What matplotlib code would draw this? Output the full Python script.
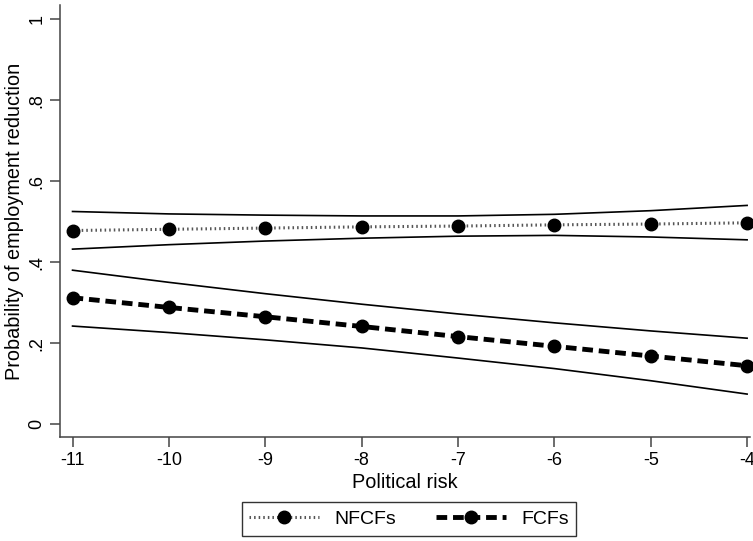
import numpy as np
import matplotlib.pyplot as plt

plt.rcParams['font.family'] = ['Liberation Sans', 'DejaVu Sans']

# political risk values
risk = [-11, -10, -9, -8, -7, -6, -5, -4]

# NFCFs: predicted probability and confidence bounds
nfcf = [0.478, 0.481, 0.484, 0.487, 0.489, 0.492, 0.494, 0.497]
nfcf_hi = [0.525, 0.519, 0.516, 0.514, 0.514, 0.518, 0.527, 0.540]
nfcf_lo = [0.432, 0.443, 0.452, 0.459, 0.464, 0.466, 0.462, 0.455]

# FCFs
fcf = [0.312, 0.288, 0.265, 0.241, 0.216, 0.192, 0.168, 0.144]
fcf_hi = [0.380, 0.350, 0.322, 0.296, 0.272, 0.250, 0.230, 0.212]
fcf_lo = [0.242, 0.226, 0.208, 0.188, 0.163, 0.137, 0.107, 0.074]

yticks = [0, 0.2, 0.4, 0.6, 0.8, 1]
ytick_labels = ["0", ".2", ".4", ".6", ".8", "1"]

fig = plt.figure(figsize=(7.53, 5.41), dpi=100)
ax = fig.add_axes([60/753, (541-437)/541, (750-60)/753, (437-5)/541])

# confidence bands as thin black lines
for arr in [nfcf_hi, nfcf_lo, fcf_hi, fcf_lo]:
    ax.plot(risk, arr, color="black", lw=1.2)

ax.plot(risk, nfcf, color="#555555", lw=2.2, linestyle=(0, (0.5, 1.0)),
        marker="o", ms=9, mfc="black", mec="black", label="NFCFs", clip_on=False)
ax.plot(risk, fcf, color="black", lw=3.5, linestyle=(0, (2.2, 1.2)),
        marker="o", ms=9, mfc="black", mec="black", label="FCFs", clip_on=False)

ax.set_xlim(-11.13, -3.97)
ax.set_ylim(-0.032, 1.035)
ax.set_xticks(risk)
ax.set_xticklabels([str(v) for v in risk])
ax.set_yticks(yticks)
ax.set_yticklabels(ytick_labels, rotation=90, va="center")
ax.tick_params(labelsize=13, length=7, color="#444444", width=1.1)
ax.set_xlabel("Political risk", fontsize=14.3, labelpad=3)
ax.set_ylabel("Probability of employment reduction", fontsize=14.3, labelpad=3)

for s in ["top", "right"]:
    ax.spines[s].set_visible(False)
for s in ["left", "bottom"]:
    ax.spines[s].set_color("#444444")
    ax.spines[s].set_linewidth(1.1)

leg = fig.legend(loc="center", bbox_to_anchor=(409/753, 1 - 519/541), ncol=2,
                 fontsize=14, frameon=True, fancybox=False, edgecolor="black",
                 handlelength=3.6, handletextpad=0.8, columnspacing=2.0,
                 borderpad=0.4, borderaxespad=0)
leg.get_frame().set_linewidth(1.0)

fig.savefig("out.png", dpi=100)
